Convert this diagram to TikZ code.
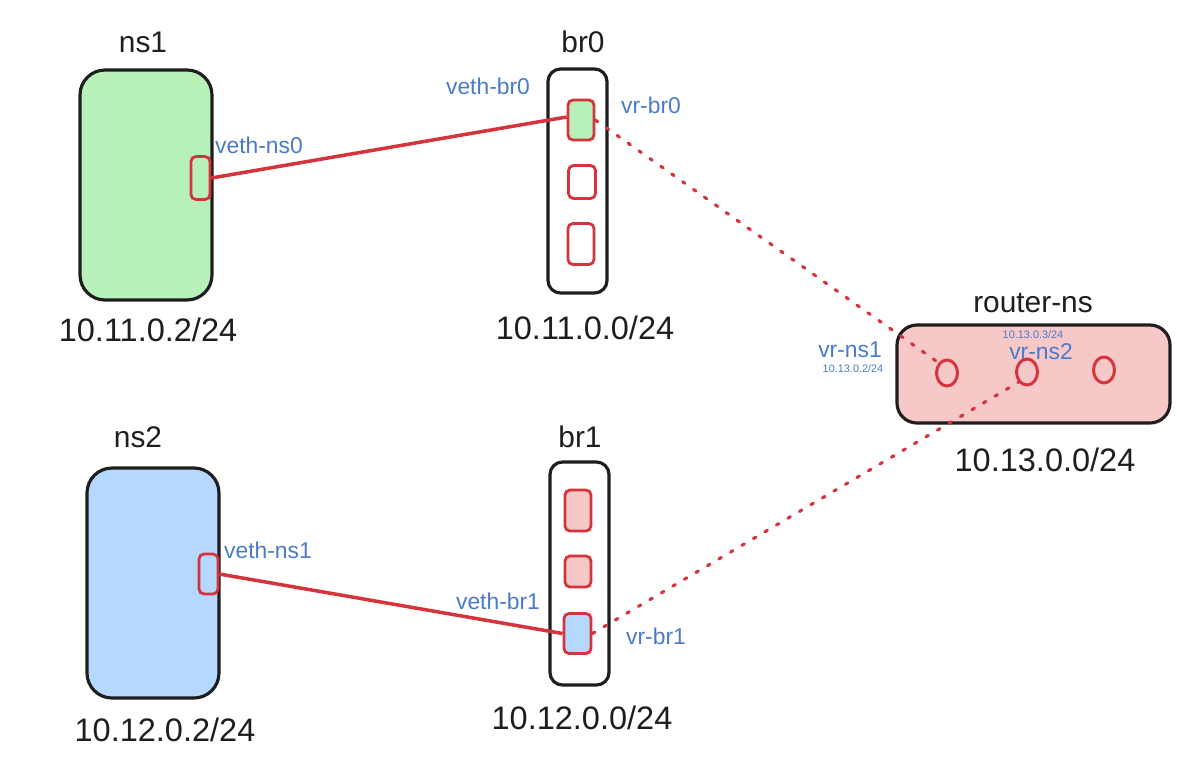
\documentclass[tikz,border=0pt]{standalone}
\usepackage{fontspec}
\setmainfont{Liberation Sans}
\definecolor{nsgreen}{HTML}{B8F0BA}
\definecolor{nsblue}{HTML}{B4D8FF}
\definecolor{rtpink}{HTML}{F6C8C8}
\definecolor{portred}{HTML}{D6343C}
\definecolor{ifblue}{HTML}{4A7BC8}
\definecolor{ink}{HTML}{1E1E1E}
\newcommand\pxu{0.02cm}
\tikzset{
  nsbox/.style={draw=ink,line width=1.8pt,rounded corners=0.5cm,minimum width=132*\pxu,minimum height=230*\pxu},
  brbox/.style={draw=ink,line width=1.8pt,fill=white,rounded corners=0.25cm,minimum width=59*\pxu,minimum height=224*\pxu},
  rtbox/.style={draw=ink,line width=1.8pt,fill=rtpink,rounded corners=0.4cm,minimum width=273*\pxu,minimum height=98*\pxu},
  port/.style={draw=portred,line width=1.6pt,rounded corners=0.1cm,inner sep=0pt},
  rport/.style={draw=portred,line width=1.7pt,ellipse,inner sep=0pt,minimum width=21*\pxu,minimum height=26*\pxu},
  wire/.style={draw=portred,line width=2pt},
  vlink/.style={draw=portred,line width=1.8pt,line cap=round,dash pattern=on 1.6pt off 6pt},
  title/.style={text=ink,font=\fontsize{17}{20}\selectfont,inner sep=0pt},
  addr/.style={text=ink,font=\fontsize{18.5}{22}\selectfont,inner sep=0pt},
  ifname/.style={text=ifblue,font=\fontsize{13}{15}\selectfont,inner sep=0pt},
  tinyaddr/.style={text=ifblue,font=\fontsize{6.2}{7}\selectfont,inner sep=0pt}
}
\usetikzlibrary{shapes.geometric}
\begin{document}
\begin{tikzpicture}[x=0.02cm,y=-0.02cm]
\useasboundingbox (0,0) rectangle (1177,769);

\node[nsbox,fill=nsgreen] (ns1) at (146,185) {};
\node[title] (ns1t) at (143,42) {ns1};
\node[addr] (ns1a) at (148,330) {10.11.0.2/24};
\node[port,minimum width=19*\pxu,minimum height=43*\pxu] (ns1p) at (200.5,178) {};
\node[ifname] (vethns0) at (259,145) {veth-ns0};

\node[nsbox,fill=nsblue] (ns2) at (153,583) {};
\node[title] (ns2t) at (138,437) {ns2};
\node[addr] (ns2a) at (165,730) {10.12.0.2/24};
\node[port,minimum width=19*\pxu,minimum height=40*\pxu] (ns2p) at (208.5,574) {};
\node[ifname] (vethns1) at (268,550) {veth-ns1};

\node[brbox] (br0) at (577.5,181) {};
\node[title] (br0t) at (583,42) {br0};
\node[addr] (br0a) at (585,328) {10.11.0.0/24};
\node[port,fill=nsgreen,minimum width=26*\pxu,minimum height=40*\pxu] (br0p1) at (581,120) {};
\node[port,minimum width=27*\pxu,minimum height=33*\pxu] (br0p2) at (582,182) {};
\node[port,minimum width=26*\pxu,minimum height=41*\pxu] (br0p3) at (581,244) {};
\node[ifname] (vethbr0) at (488,86) {veth-br0};
\node[ifname] (vrbr0) at (651,105) {vr-br0};

\node[brbox,minimum height=223*\pxu] (br1) at (579.5,573.5) {};
\node[title] (br1t) at (580,437) {br1};
\node[addr] (br1a) at (582,718) {10.12.0.0/24};
\node[port,fill=rtpink,minimum width=26*\pxu,minimum height=41*\pxu] (br1p1) at (578,510.5) {};
\node[port,fill=rtpink,minimum width=26*\pxu,minimum height=31*\pxu] (br1p2) at (578,571.5) {};
\node[port,fill=nsblue,minimum width=27*\pxu,minimum height=40*\pxu] (br1p3) at (577.5,633.5) {};
\node[ifname] (vethbr1) at (498,601) {veth-br1};
\node[ifname] (vrbr1) at (656,636) {vr-br1};

\node[rtbox] (rt) at (1033.5,374) {};
\node[title] (rtt) at (1033,303) {router-ns};
\node[addr] (rta) at (1045,460) {10.13.0.0/24};
\node[rport] (rp1) at (947,373) {};
\node[rport] (rp2) at (1027,372) {};
\node[rport] (rp3) at (1104,370) {};
\node[ifname] (vrns1) at (850,350) {vr-ns1};
\node[tinyaddr] (vrns1a) at (853,369) {10.13.0.2/24};
\node[tinyaddr] (vrns2a) at (1033,335) {10.13.0.3/24};
\node[ifname] (vrns2) at (1041,352) {vr-ns2};

\draw[wire] (ns1p.east) -- ([yshift=0.06cm]br0p1.west);
\draw[wire] (ns2p.east) -- (br1p3.west);
\draw[vlink] (br0p1.east) -- (rp1.north west);
\draw[vlink] (br1p3.east) -- (rp2.south west);
\end{tikzpicture}
\end{document}
